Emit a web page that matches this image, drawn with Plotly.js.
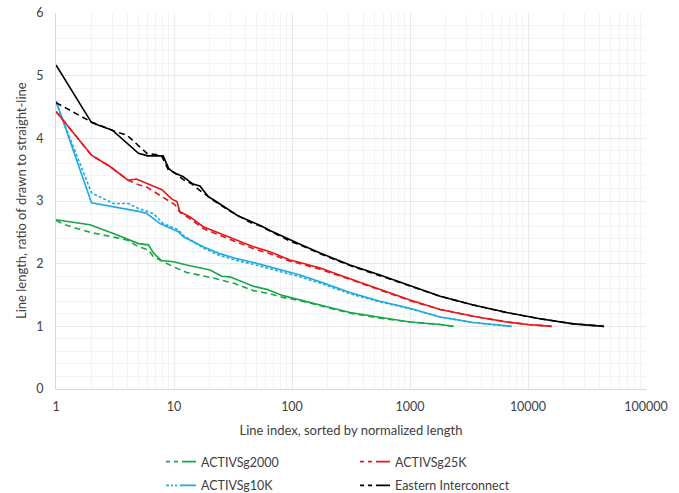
<!DOCTYPE html>
<html>
<head>
<meta charset="utf-8">
<script src="https://cdn.plot.ly/plotly-3.0.1.min.js"></script>
<style>html,body{margin:0;padding:0;background:#fff;}#chart{width:679px;height:493px;}</style>
</head>
<body>
<div id="chart"></div>
<script>
// ---- Data ----
const seriesNames = ['ACTIVSg2000', 'ACTIVSg10K', 'ACTIVSg25K', 'Eastern Interconnect'];

// ACTIVSg2000
const g2000SolidX = [1, 1.94, 3.06, 3.97, 5, 6.06, 6.7, 7.8, 9.9, 12.8, 16.6, 20.2, 25.4, 29.7, 47, 61, 84, 96, 117, 173, 310, 557, 1000, 1800, 2330];
const g2000SolidY = [2.70, 2.62, 2.48, 2.40, 2.32, 2.30, 2.17, 2.05, 2.03, 1.98, 1.93, 1.90, 1.80, 1.79, 1.64, 1.59, 1.49, 1.46, 1.42, 1.34, 1.22, 1.14, 1.07, 1.03, 1.00];
const g2000DashX = [1, 1.19, 1.94, 3.06, 3.97, 5, 6.06, 6.7, 8.1, 9.9, 12.8, 17.7, 21.6, 31.8, 47, 65, 84, 117, 173, 310, 557, 1000, 1800, 2330];
const g2000DashY = [2.69, 2.62, 2.50, 2.43, 2.38, 2.27, 2.22, 2.11, 2.03, 1.95, 1.86, 1.81, 1.77, 1.69, 1.57, 1.52, 1.46, 1.41, 1.33, 1.21, 1.13, 1.07, 1.03, 1.00];

// ACTIVSg10K
const g10kSolidX = [1, 2, 5.15, 5.9, 7.6, 9.3, 10.9, 12, 17.7, 24.5, 34, 47, 65, 96, 117, 173, 310, 557, 1000, 1800, 2183, 3444, 5000, 7280];
const g10kSolidY = [4.60, 2.97, 2.83, 2.80, 2.64, 2.56, 2.51, 2.43, 2.27, 2.16, 2.08, 2.02, 1.95, 1.86, 1.82, 1.71, 1.54, 1.40, 1.29, 1.15, 1.12, 1.06, 1.03, 1.00];
const g10kDashX = [1, 2, 3.06, 4.1, 5, 6.7, 8.1, 10.9, 12, 17.7, 24.5, 34, 47, 65, 96, 117, 173, 310, 557, 1000, 1800, 3444, 7280];
const g10kDashY = [4.57, 3.13, 2.96, 2.96, 2.88, 2.80, 2.64, 2.54, 2.45, 2.25, 2.13, 2.05, 1.99, 1.92, 1.83, 1.79, 1.69, 1.52, 1.39, 1.28, 1.15, 1.06, 1.00];

// ACTIVSg25K
const g25kSolidX = [1, 2, 2.87, 4.1, 4.8, 5.9, 6.7, 7.9, 9.6, 10.6, 11.2, 13.6, 17.7, 24.5, 34, 47, 65, 96, 117, 173, 310, 557, 1000, 1800, 3444, 6600, 10000, 15860];
const g25kSolidY = [4.43, 3.73, 3.55, 3.33, 3.35, 3.28, 3.23, 3.18, 3.03, 2.99, 2.83, 2.75, 2.59, 2.48, 2.38, 2.27, 2.19, 2.06, 2.02, 1.93, 1.76, 1.59, 1.42, 1.27, 1.16, 1.07, 1.03, 1.00];
const g25kDashX = [1, 2, 2.87, 4.1, 5, 5.9, 7.9, 10.2, 11.2, 13.6, 17.7, 24.5, 34, 47, 65, 96, 117, 173, 310, 557, 1000, 1800, 3444, 6600, 10000, 15860];
const g25kDashY = [4.43, 3.73, 3.55, 3.33, 3.26, 3.22, 3.07, 2.94, 2.82, 2.72, 2.56, 2.45, 2.34, 2.24, 2.16, 2.04, 2.00, 1.91, 1.75, 1.58, 1.41, 1.27, 1.16, 1.07, 1.03, 1.00];

// Eastern Interconnect
const eiSolidX = [1, 2, 3, 5, 6, 8.1, 9, 10, 11.9, 14.5, 16.6, 19.5, 21.6, 28, 35, 44, 54, 65, 74, 96, 117, 173, 310, 557, 1000, 1800, 3444, 6600, 12640, 24200, 44000];
const eiSolidY = [5.17, 4.25, 4.13, 3.76, 3.72, 3.72, 3.52, 3.45, 3.39, 3.27, 3.24, 3.07, 3.02, 2.88, 2.76, 2.68, 2.61, 2.53, 2.48, 2.38, 2.31, 2.17, 1.98, 1.82, 1.65, 1.48, 1.34, 1.22, 1.12, 1.04, 1.00];
const eiDashX = [1, 2, 3.16, 4, 5.9, 7.8, 9, 10, 12, 14, 16, 19, 22, 28, 35, 44, 54, 65, 74, 96, 117, 173, 310, 557, 1000, 1800, 3444, 6600, 12640, 24200, 44000];
const eiDashY = [4.57, 4.26, 4.11, 4.05, 3.76, 3.73, 3.49, 3.46, 3.34, 3.28, 3.19, 3.08, 3.00, 2.87, 2.76, 2.66, 2.60, 2.52, 2.46, 2.36, 2.30, 2.16, 1.97, 1.81, 1.64, 1.48, 1.34, 1.22, 1.12, 1.04, 1.00];

// Axis ticks and titles
const xTickVals = [1, 10, 100, 1000, 10000, 100000];
const xTickText = ['1', '10', '100', '1000', '10000', '100000'];
const yTickVals = [0, 1, 2, 3, 4, 5, 6];
const yTickText = ['0', '1', '2', '3', '4', '5', '6'];
const xTitle = 'Line index, sorted by normalized length';
const yTitle = 'Line length, ratio of drawn to straight-line';

// ---- Styles ----
const colors = {g2000: '#17a64a', g10k: '#1fa9e1', g25k: '#e3161b', ei: '#000000'};
const W = 1.6;

const minorX = [];
for (let d = 0; d < 5; d++) for (let k = 2; k <= 9; k++) minorX.push(k * Math.pow(10, d));

function line(x, y, color, dash, name) {
  return {x: x, y: y, type: 'scatter', mode: 'lines', name: name, showlegend: false,
          hoverinfo: 'skip', line: {color: color, width: W, dash: dash}};
}
function legendEntry(name, color, dash, legend, group) {
  return {x: [null], y: [null], type: 'scatter', mode: 'lines', name: name, legend: legend,
          legendgroup: group, showlegend: true, line: {color: color, width: W, dash: dash}};
}

const traces = [
  line(g2000DashX, g2000DashY, colors.g2000, '6px,4px', seriesNames[0]),
  line(g2000SolidX, g2000SolidY, colors.g2000, 'solid', seriesNames[0]),
  line(g10kDashX, g10kDashY, colors.g10k, '3px,2px', seriesNames[1]),
  line(g10kSolidX, g10kSolidY, colors.g10k, 'solid', seriesNames[1]),
  line(g25kDashX, g25kDashY, colors.g25k, '6px,4px', seriesNames[2]),
  line(g25kSolidX, g25kSolidY, colors.g25k, 'solid', seriesNames[2]),
  line(eiDashX, eiDashY, colors.ei, '6px,4px', seriesNames[3]),
  line(eiSolidX, eiSolidY, colors.ei, 'solid', seriesNames[3]),
  legendEntry(seriesNames[0], colors.g2000, '4px,4px,4px,4px,14px,60px', 'legend', 'a'),
  legendEntry(seriesNames[1], colors.g10k, '3px,2px,2px,2px,2px,3px,16px,60px', 'legend', 'b'),
  legendEntry(seriesNames[2], colors.g25k, '4px,4px,4px,4px,14px,60px', 'legend2', 'c'),
  legendEntry(seriesNames[3], colors.ei, '4px,4px,4px,4px,14px,60px', 'legend2', 'd')
];

const FONT = 'Lato, "Open Sans", "Liberation Sans", sans-serif';
const TXT = '#404040';
const GRID = '#e8e8e8';
const MINOR = '#f3f3f3';
const NOTICK = 'rgba(0,0,0,0)';

const legendCommon = {
  orientation: 'v', xref: 'container', yref: 'container', xanchor: 'left', yanchor: 'top',
  bgcolor: 'rgba(0,0,0,0)', borderwidth: 0, tracegroupgap: 4.5,
  font: {family: FONT, size: 12.5, color: TXT}, itemclick: false, itemdoubleclick: false
};

const layout = {
  width: 679, height: 493,
  margin: {l: 56, r: 33, t: 13, b: 104, autoexpand: false},
  paper_bgcolor: '#ffffff', plot_bgcolor: '#ffffff',
  font: {family: FONT, size: 12.5, color: TXT},
  showlegend: true,
  xaxis: {
    type: 'log', range: [0, 5], automargin: true,
    tickmode: 'array', tickvals: xTickVals, ticktext: xTickText, tickangle: 0,
    ticks: 'outside', ticklen: 6, tickcolor: NOTICK,
    showgrid: true, gridcolor: GRID, gridwidth: 1,
    minor: {tickmode: 'array', tickvals: minorX, showgrid: true, gridcolor: MINOR, gridwidth: 1, ticks: ''},
    showline: true, linecolor: '#d9d9d9', linewidth: 1,
    zeroline: false,
    tickfont: {family: FONT, size: 12.5, color: TXT},
    title: {text: xTitle, font: {family: FONT, size: 13, color: TXT}, standoff: 12}
  },
  yaxis: {
    range: [0, 6], automargin: true,
    tickmode: 'array', tickvals: yTickVals, ticktext: yTickText,
    ticks: 'outside', ticklen: 9, tickcolor: NOTICK,
    showgrid: true, gridcolor: GRID, gridwidth: 1,
    minor: {dtick: 0.2, showgrid: true, gridcolor: MINOR, gridwidth: 1, ticks: ''},
    showline: true, linecolor: '#d9d9d9', linewidth: 1,
    zeroline: false,
    tickfont: {family: FONT, size: 12.5, color: TXT}
  },
  annotations: [{
    text: yTitle, textangle: -90, showarrow: false,
    xref: 'paper', yref: 'paper', x: (21 - 56) / 590, y: 0.5,
    xanchor: 'center', yanchor: 'middle',
    font: {family: FONT, size: 13, color: TXT}
  }],
  legend: Object.assign({}, legendCommon, {x: 161 / 679, y: 1 - 447 / 493}),
  legend2: Object.assign({}, legendCommon, {x: 355 / 679, y: 1 - 447 / 493})
};

Plotly.newPlot('chart', traces, layout, {displayModeBar: false, staticPlot: true});
</script>
</body>
</html>
